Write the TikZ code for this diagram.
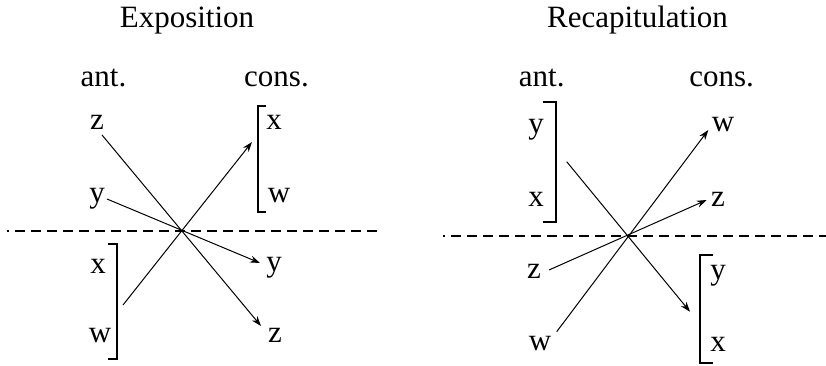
\documentclass[tikz,border=0pt]{standalone}
\usepackage{fontspec}
\setmainfont{Liberation Serif}
\usetikzlibrary{arrows.meta}

\begin{document}
\begin{tikzpicture}[x=1pt,y=-1pt,font=\fontsize{31}{36}\selectfont,>={Stealth[length=10pt,width=7pt]},
  t/.style={anchor=base,inner sep=0pt},
  a/.style={->,line width=1pt},
  brk/.style={line width=1.8pt},
  sep/.style={line width=1.8pt,dash pattern=on 10pt off 6pt,dash phase=8.5pt}]
  \useasboundingbox (0,0) rectangle (826,366);
  % exposition panel
  \node[t](expo) at (187,28){Exposition};
  \node[t](antE) at (103.5,87){ant.};
  \node[t](consE) at (276.5,87){cons.};
  \node[t](ezA) at (97,130){z};
  \node[t](eyA) at (97,202.5){y};
  \node[t](exA) at (98,273){x};
  \node[t](ewA) at (100,342){w};
  \node[t](exC) at (274,130){x};
  \node[t](ewC) at (279,202){w};
  \node[t](eyC) at (274,271){y};
  \node[t](ezC) at (275,342){z};
  \coordinate (ezS) at (102,135);   \coordinate (ezT) at (261,326);
  \coordinate (eyS) at (107,199);   \coordinate (eyT) at (260,263);
  \coordinate (ewS) at (123,305);   \coordinate (ewT) at (252,142);
  \coordinate (esepL) at (7,231);   \coordinate (esepR) at (382,231);
  \draw[sep](esepL)--(esepR);
  \draw[brk](108,244)--(116.7,244)--(116.7,359)--(108,359);
  \draw[brk](265.5,106)--(258.3,106)--(258.3,212)--(265.5,212);
  \draw[a](ezS)--(ezT);\draw[a](eyS)--(eyT);\draw[a](ewS)--(ewT);
  % recapitulation panel
  \node[t](recap) at (637.5,27.5){Recapitulation};
  \node[t](antR) at (541.7,87){ant.};
  \node[t](consR) at (721.7,87){cons.};
  \node[t](ryA) at (536,134){y};
  \node[t](rxA) at (536,206.7){x};
  \node[t](rzA) at (534,278){z};
  \node[t](rwA) at (540,350){w};
  \node[t](rwC) at (723,131.7){w};
  \node[t](rzC) at (718,206.7){z};
  \node[t](ryC) at (718,279){y};
  \node[t](rxC) at (718,351.7){x};
  \coordinate (ryxS) at (566.7,161.7); \coordinate (ryxT) at (690,311.7);
  \coordinate (rzS) at (549,270);      \coordinate (rzT) at (706.7,200);
  \coordinate (rwS) at (556.7,331.7);  \coordinate (rwT) at (708.3,130);
  \coordinate (rsepL) at (443,236);    \coordinate (rsepR) at (826,236);
  \draw[sep](rsepL)--(rsepR);
  \draw[brk](542.5,102.3)--(555.7,102.3)--(555.7,222.3)--(542.5,222.3);
  \draw[brk](712.7,255)--(700,255)--(700,363.3)--(712.7,363.3);
  \draw[a](ryxS)--(ryxT);\draw[a](rzS)--(rzT);\draw[a](rwS)--(rwT);
\end{tikzpicture}
\end{document}
